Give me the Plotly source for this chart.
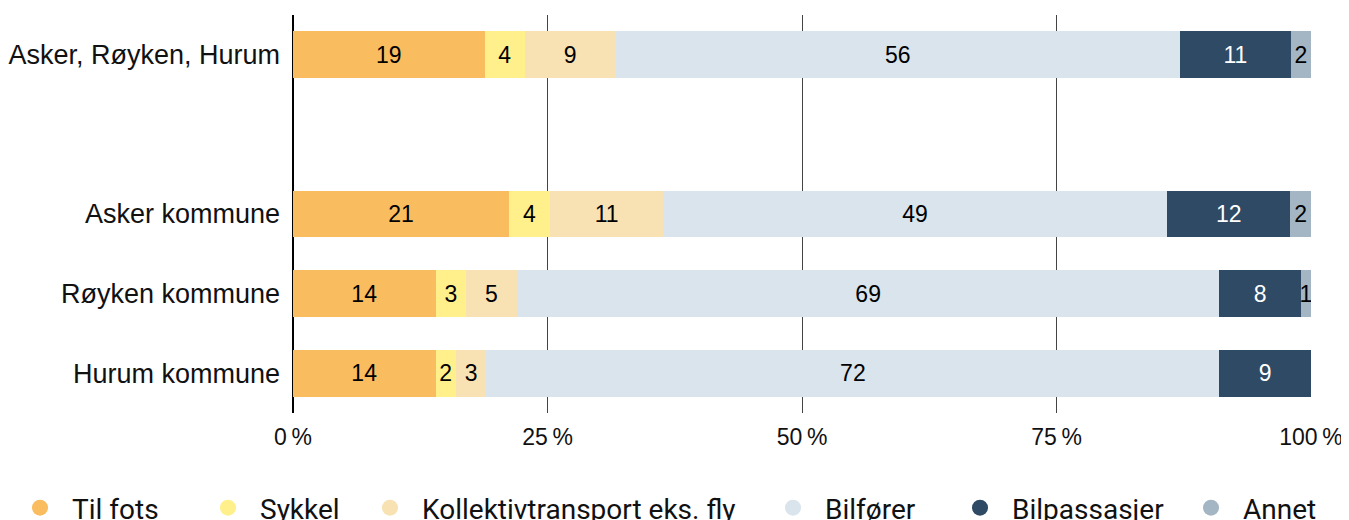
import plotly.graph_objects as go

categories = ["Asker, Røyken, Hurum", "Asker kommune", "Røyken kommune", "Hurum kommune"]
category_order = ["Hurum kommune", "Røyken kommune", "Asker kommune", " ", "Asker, Røyken, Hurum"]
series_names = ["Til fots", "Sykkel", "Kollektivtransport eks. fly", "Bilfører", "Bilpassasjer", "Annet"]
til_fots = [19, 21, 14, 14]
sykkel = [4, 4, 3, 2]
kollektiv = [9, 11, 5, 3]
bilforer = [56, 49, 69, 72]
bilpassasjer = [11, 12, 8, 9]
annet = [2, 2, 1, 0]
tick_vals = [0, 25, 50, 75, 100]
tick_text = ["0\u2009%", "25\u2009%", "50\u2009%", "75\u2009%", "100\u2009%"]

series_values = [til_fots, sykkel, kollektiv, bilforer, bilpassasjer, annet]
colors = ["#F9BC5F", "#FFF08C", "#F8E2B3", "#D9E4EC", "#2E4A64", "#A4B6C3"]
text_colors = ["#000000", "#000000", "#000000", "#000000", "#FFFFFF", "#000000"]
legend_text_x = [72, 260, 422, 825, 1012, 1243]

fig = go.Figure()
for i, (name, vals) in enumerate(zip(series_names, series_values)):
    fig.add_trace(go.Bar(
        y=categories, x=vals, name=name, orientation="h",
        marker=dict(color=colors[i], line=dict(width=0)),
        text=[str(v) if v else "" for v in vals],
        textposition="inside", insidetextanchor="middle",
        textfont=dict(color=text_colors[i], size=23, family="Liberation Sans, Arial, sans-serif"),
        showlegend=False, hoverinfo="skip",
    ))

for i, name in enumerate(series_names):
    lg = "legend" if i == 0 else f"legend{i+1}"
    fig.add_trace(go.Scatter(
        x=[None], y=[None], mode="markers", name=name,
        marker=dict(symbol="circle", size=16, color=colors[i]),
        legend=lg, showlegend=True,
    ))

legend_common = dict(
    orientation="h", xref="container", yref="container", yanchor="middle",
    y=1 - 500 / 520, xanchor="left", itemwidth=54, bgcolor="rgba(0,0,0,0)",
    font=dict(size=28, family="Roboto, sans-serif", color="#111111"),
)
layout_legends = {}
for i in range(6):
    key = "legend" if i == 0 else f"legend{i+1}"
    layout_legends[key] = dict(legend_common, x=max(0, legend_text_x[i] - 72) / 1349)

fig.update_layout(
    width=1349, height=520,
    margin=dict(l=285, r=46, t=7, b=115, autoexpand=False),
    barmode="stack", barnorm="percent", bargap=0.41,
    plot_bgcolor="white", paper_bgcolor="white",
    uniformtext=dict(minsize=23, mode="show"),
    font=dict(family="Liberation Sans, Arial, sans-serif", size=22, color="#111111"),
    xaxis=dict(
        range=[0, 100], tickvals=tick_vals, ticktext=tick_text,
        showgrid=True, gridcolor="#444444", gridwidth=1,
        zeroline=True, zerolinecolor="#000000", zerolinewidth=1.5,
        showline=False, ticks="", tickfont=dict(size=23),
        ticklabelstandoff=8, automargin=False, fixedrange=True,
    ),
    yaxis=dict(
        categoryorder="array", categoryarray=category_order,
        range=[-0.5, 4.5], showgrid=False, zeroline=False, ticks="",
        ticklabelstandoff=12, tickfont=dict(size=27), automargin=False,
    ),
    **layout_legends,
)

fig.write_html("out.html")
